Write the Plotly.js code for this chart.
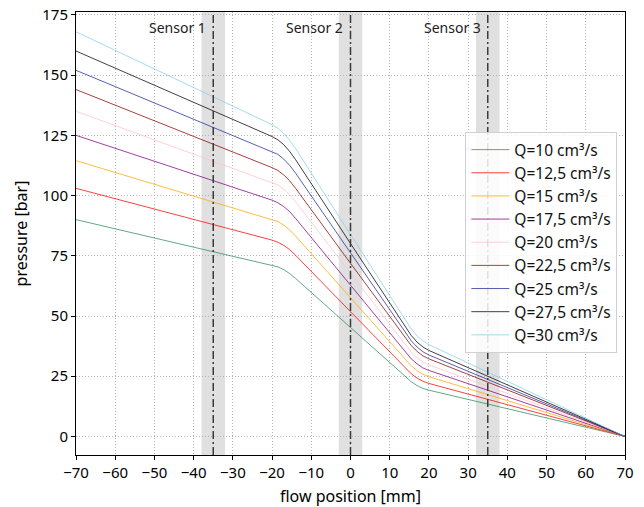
<!DOCTYPE html>
<html>
<head>
<meta charset="utf-8">
<script src="https://cdn.plot.ly/plotly-3.0.1.min.js"></script>
<style>html,body{margin:0;padding:0;background:#fff;}#chart{width:644px;height:507px;}</style>
</head>
<body>
<div id="chart"></div>
<script>
// flow positions [mm] where pressures were read
const positions = [-70, -35, -20, -18.5, -17, -15.5, -14, 0, 14, 15.5, 17, 18.5, 20, 35, 70];

const seriesNames = ["Q=10 cm³/s", "Q=12,5 cm³/s", "Q=15 cm³/s", "Q=17,5 cm³/s", "Q=20 cm³/s",
                     "Q=22,5 cm³/s", "Q=25 cm³/s", "Q=27,5 cm³/s", "Q=30 cm³/s"];

// pressure [bar] per flow rate
const pQ10   = [90.0, 76.8, 71.1, 70.4, 69.2, 67.6, 65.6, 45.2, 24.7, 22.7, 21.1, 19.9, 19.2, 13.4, 0];
const pQ12_5 = [103.0, 88.0, 81.5, 80.6, 79.3, 77.5, 75.2, 51.8, 28.3, 26.0, 24.2, 22.9, 22.0, 15.4, 0];
const pQ15   = [114.5, 97.5, 90.2, 89.2, 87.7, 85.7, 83.2, 57.5, 31.8, 29.3, 27.3, 25.8, 24.8, 17.4, 0];
const pQ17_5 = [125.0, 106.2, 98.1, 97.0, 95.4, 93.3, 90.5, 62.8, 35.0, 32.2, 30.1, 28.4, 27.4, 19.2, 0];
const pQ20   = [135.0, 114.4, 105.6, 104.4, 102.6, 100.3, 97.4, 67.7, 37.9, 35.0, 32.6, 30.9, 29.7, 20.8, 0];
const pQ22_5 = [144.0, 121.4, 111.6, 110.4, 108.5, 106.1, 103.0, 71.9, 40.8, 37.7, 35.3, 33.4, 32.2, 22.5, 0];
const pQ25   = [152.0, 128.5, 118.4, 117.1, 115.1, 112.5, 109.3, 76.1, 42.9, 39.7, 37.1, 35.1, 33.8, 23.6, 0];
const pQ27_5 = [160.0, 135.2, 124.5, 123.1, 121.1, 118.3, 114.9, 80.1, 45.3, 41.9, 39.1, 37.1, 35.7, 25.0, 0];
const pQ30   = [168.0, 141.0, 129.4, 127.9, 125.8, 122.9, 119.5, 83.8, 48.1, 44.6, 41.7, 39.6, 38.1, 26.7, 0];

const sensorPositions = [-35, 0, 35];
const sensorLabels = ["Sensor 1", "Sensor 2", "Sensor 3"];

const seriesValues = [pQ10, pQ12_5, pQ15, pQ17_5, pQ20, pQ22_5, pQ25, pQ27_5, pQ30];
const colors = ["#2e8b57", "#ff0000", "#ffa500", "#800080", "#ffc0cb", "#8b0000", "#1f2a99", "#000000", "#87ceeb"];

const traces = seriesValues.map((vals, i) => ({
  x: positions, y: vals, type: "scatter", mode: "lines",
  name: seriesNames[i],
  line: {color: colors[i], width: 1},
  opacity: 0.75
}));

const shapes = [];
const annotations = [];
sensorPositions.forEach((s, i) => {
  shapes.push({type: "rect", xref: "x", yref: "paper", x0: s - 3, x1: s + 3, y0: 0, y1: 1,
               fillcolor: "#e0e0e0", line: {width: 0}, layer: "below"});
  shapes.push({type: "line", xref: "x", yref: "paper", x0: s, x1: s, y0: 0, y1: 1,
               line: {color: "#3a3a3a", width: 1.5, dash: "8px,3px,2px,3px"}, layer: "above"});
  annotations.push({x: s - 1.3, y: 0.965, xref: "x", yref: "paper", text: sensorLabels[i],
                    showarrow: false, xanchor: "right", yanchor: "middle",
                    font: {family: "Noto Sans", size: 14, color: "#222"}});
});

const layout = {
  width: 644, height: 507,
  margin: {l: 76, r: 19, t: 12, b: 52},
  paper_bgcolor: "#fff", plot_bgcolor: "#fff",
  font: {family: "Noto Sans", color: "#000"},
  showlegend: true,
  legend: {x: 0.986, xanchor: "right", y: 0.729, yanchor: "top",
           itemwidth: 38,
           bgcolor: "rgba(255,255,255,0.85)", bordercolor: "#d0d0d0", borderwidth: 1,
           font: {family: "Noto Sans", size: 15.5, color: "#111"}, tracegroupgap: 0},
  xaxis: {range: [-70, 70], dtick: 10, tick0: 0, ticks: "outside", ticklen: 4, tickcolor: "#000",
          showline: true, mirror: true, linecolor: "#000", linewidth: 1,
          showgrid: true, gridcolor: "#b4b4b4", griddash: "1px,2px", gridwidth: 1, zeroline: false,
          tickfont: {size: 15, color: "#000"},
          title: {text: "flow position [mm]", font: {size: 16}, standoff: 19}},
  yaxis: {range: [-7.7, 176.2], dtick: 25, tick0: 0, ticks: "outside", ticklen: 4, tickcolor: "#000",
          showline: true, mirror: true, linecolor: "#000", linewidth: 1,
          showgrid: true, gridcolor: "#b4b4b4", griddash: "1px,2px", gridwidth: 1, zeroline: false,
          tickfont: {size: 15, color: "#000"},
          title: {text: "pressure [bar]", font: {size: 16}, standoff: 10}},
  shapes: shapes,
  annotations: annotations
};

Plotly.newPlot("chart", traces, layout, {displayModeBar: false, staticPlot: true});
</script>
</body>
</html>
